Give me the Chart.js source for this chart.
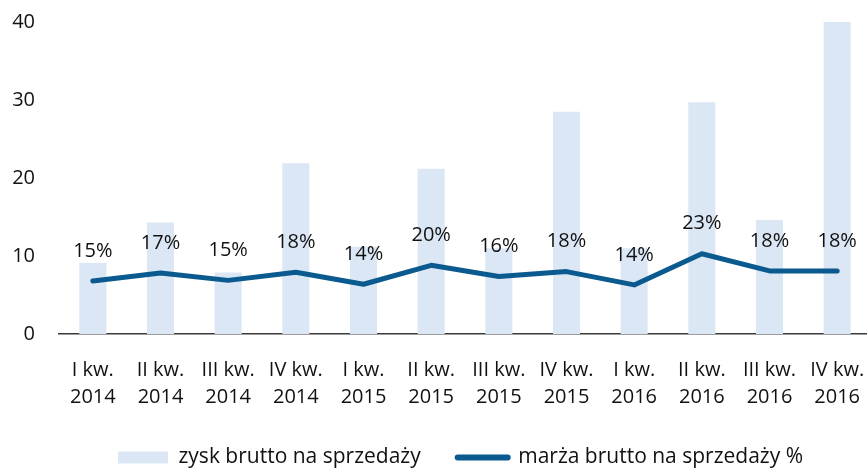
<!DOCTYPE html>
<html>
<head>
<meta charset="utf-8">
<script src="https://cdn.jsdelivr.net/npm/chart.js@4/dist/chart.umd.min.js"></script>
<style>
  html, body { margin: 0; padding: 0; background: #fff; }
  #wrap { width: 867px; height: 468px; }
</style>
</head>
<body>
<div id="wrap"><canvas id="marginChart"></canvas></div>
<script>
const quarters = [
  ["I kw.", "2014"], ["II kw.", "2014"], ["III kw.", "2014"], ["IV kw.", "2014"],
  ["I kw.", "2015"], ["II kw.", "2015"], ["III kw.", "2015"], ["IV kw.", "2015"],
  ["I kw.", "2016"], ["II kw.", "2016"], ["III kw.", "2016"], ["IV kw.", "2016"]
];
const grossProfit = [9.1, 14.3, 7.9, 21.9, 11.2, 21.2, 11.0, 28.5, 11.0, 29.7, 14.6, 40.1];
const grossMargin = [15.1, 17.4, 15.3, 17.6, 14.2, 19.6, 16.4, 17.8, 14.0, 22.9, 18.0, 18.0];
const yTicks = [0, 10, 20, 30, 40];

const FONT = "'Open Sans'";
const barColor = "#dbe7f5";
const lineColor = "#0b5a8f";

const pctLabels = {
  id: "pctLabels",
  beforeInit(chart) {
    // legend keeps a wide gap between items but should stay short
    const legend = chart.legend;
    if (!legend) return;
    const fit = legend.fit;
    legend.fit = function () {
      fit.call(this);
      this.height = 58;
    };
  },
  afterLayout(chart) {
    // legend sits centred under the plot, a bit right of the canvas centre
    if (chart.legend) {
      chart.legend.left += 27;
      chart.legend.right += 27;
    }
    // plot runs a few px past the right edge of the canvas
    const x = chart.scales.x;
    x.right += 4;
    x.width += 4;
    x.configure();
  },
  // percent labels above the line points
  afterDatasetsDraw(chart) {
    const meta = chart.getDatasetMeta(1);
    const ctx = chart.ctx;
    ctx.save();
    ctx.font = "20px " + FONT;
    ctx.fillStyle = "#111";
    ctx.textAlign = "center";
    ctx.textBaseline = "middle";
    meta.data.forEach((pt, i) => {
      ctx.fillText(Math.round(grossMargin[i]) + "%", pt.x, pt.y - 30);
    });
    ctx.restore();
  }
};

const ctx = document.getElementById("marginChart").getContext("2d");
new Chart(ctx, {
  data: {
    labels: quarters,
    datasets: [
      {
        type: "bar",
        label: "zysk brutto na sprzedaży",
        data: grossProfit,
        backgroundColor: barColor,
        borderWidth: 0,
        categoryPercentage: 1,
        barPercentage: 0.4,
        yAxisID: "y",
        order: 2
      },
      {
        type: "line",
        label: "marża brutto na sprzedaży %",
        data: grossMargin,
        borderColor: lineColor,
        backgroundColor: lineColor,
        borderWidth: 5,
        pointRadius: 0,
        tension: 0,
        borderCapStyle: "round",
        borderJoinStyle: "round",
        yAxisID: "y1",
        order: 1
      }
    ]
  },
  options: {
    responsive: true,
    maintainAspectRatio: false,
    animation: false,
    layout: { padding: { top: 22, right: 0, left: 0, bottom: 0 } },
    plugins: {
      tooltip: { enabled: false },
      legend: {
        position: "bottom",
        labels: {
          color: "#111",
          font: { family: FONT, size: 21 },
          usePointStyle: true,
          pointStyleWidth: 50,
          boxHeight: 12,
          padding: 37,
          generateLabels: (chart) => chart.data.datasets.map((ds, i) => ({
            text: ds.label,
            datasetIndex: i,
            fillStyle: i === 0 ? barColor : lineColor,
            strokeStyle: i === 0 ? barColor : lineColor,
            lineWidth: i === 0 ? 0 : 6,
            lineCap: "round",
            pointStyle: i === 0 ? "rect" : "line",
            fontColor: "#111",
            hidden: false
          }))
        }
      }
    },
    scales: {
      x: {
        afterFit: (axis) => {
          axis.height = 76;
          axis.paddingLeft = 0;
          axis.paddingRight = 0;
        },
        grid: { display: false, drawTicks: false },
        border: { display: true, color: "#3a3a3a", width: 1.5 },
        ticks: {
          color: "#111",
          font: { family: FONT, size: 20, lineHeight: 1.35 },
          padding: 23,
          maxRotation: 0,
          autoSkip: false
        }
      },
      y: {
        min: 0,
        max: 40,
        afterBuildTicks: (axis) => { axis.ticks = yTicks.map((v) => ({ value: v })); },
        afterFit: (axis) => {
          axis.width = 59;
          axis.paddingTop = 0;
          axis.paddingBottom = 0;
        },
        grid: { display: false, drawTicks: false },
        border: { display: false },
        ticks: {
          color: "#111",
          font: { family: FONT, size: 20 },
          padding: 24
        }
      },
      y1: {
        display: false,
        min: 0,
        max: 89
      }
    }
  },
  plugins: [pctLabels]
});
</script>
</body>
</html>
